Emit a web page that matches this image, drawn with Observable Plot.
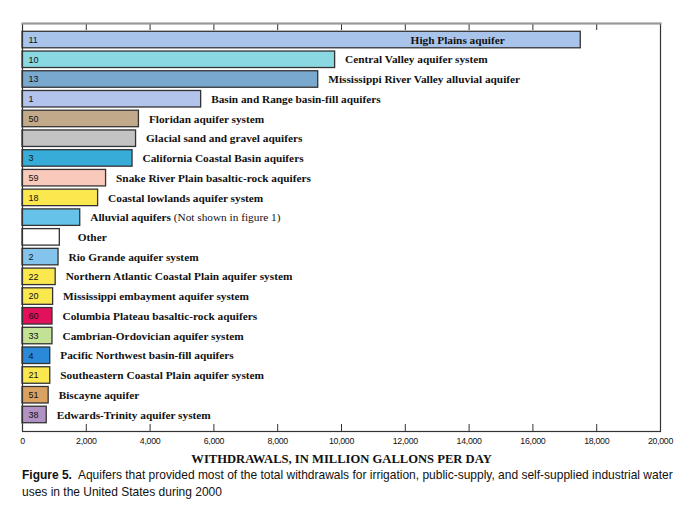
<!DOCTYPE html>
<html>
<head>
<meta charset="utf-8">
<script src="https://cdn.jsdelivr.net/npm/d3@7"></script>
<script src="https://cdn.jsdelivr.net/npm/@observablehq/plot@0.6"></script>
<style>
  body { margin: 0; background: #fff; }
  #chart svg { display: block; }
  #caption {
    margin: 0 0 0 22px; white-space: nowrap;
    font-family: "Liberation Sans Narrow", "Arial Narrow", "Liberation Sans", sans-serif;
    font-size: 13px; line-height: 17px; color: #111;
    transform: scaleX(0.922); transform-origin: 0 0;
  }
  #caption b { font-weight: bold; }
  .ticklab text { letter-spacing: -0.3px; }
</style>
</head>
<body>
<div id="chart"></div>
<div id="caption"><b>Figure 5.</b>&nbsp; Aquifers that provided most of the total withdrawals for irrigation, public-supply, and self-supplied industrial water<br>uses in the United States during 2000</div>
<script>
const names = [
  "High Plains aquifer",
  "Central Valley aquifer system",
  "Mississippi River Valley alluvial aquifer",
  "Basin and Range basin-fill aquifers",
  "Floridan aquifer system",
  "Glacial sand and gravel aquifers",
  "California Coastal Basin aquifers",
  "Snake River Plain basaltic-rock aquifers",
  "Coastal lowlands aquifer system",
  "Alluvial aquifers (Not shown in figure 1)",
  "Other",
  "Rio Grande aquifer system",
  "Northern Atlantic Coastal Plain aquifer system",
  "Mississippi embayment aquifer system",
  "Columbia Plateau basaltic-rock aquifers",
  "Cambrian-Ordovician aquifer system",
  "Pacific Northwest basin-fill aquifers",
  "Southeastern Coastal Plain aquifer system",
  "Biscayne aquifer",
  "Edwards-Trinity aquifer system"
];
const values = [17500, 9800, 9270, 5600, 3650, 3560, 3450, 2620, 2370, 1810, 1170, 1130, 1040, 960, 940, 940, 870, 870, 820, 760];
const codes = ["11", "10", "13", "1", "50", "", "3", "59", "18", "", "", "2", "22", "20", "60", "33", "4", "21", "51", "38"];
const colors = ["#a9c4ea", "#8ad8e2", "#7aa9cf", "#b2c3ec", "#c2a98a", "#c3c3c3", "#38acd9", "#f9c9bb", "#fbe84f", "#67c2ea", "#ffffff", "#84c3ec", "#fbe84f", "#fbe84f", "#e3105b", "#c3e296", "#2a89d8", "#fbe84f", "#d9a262", "#b292c4"];
const xTicks = [0, 2000, 4000, 6000, 8000, 10000, 12000, 14000, 16000, 18000, 20000];
const axisTitle = "WITHDRAWALS, IN MILLION GALLONS PER DAY";

const rows = names.map((n, i) => ({name: n, value: values[i], code: codes[i], color: colors[i]}));

const W = 689, H = 466, mT = 23, mB = 35, mL = 22, mR = 29;
const frameH = H - mT - mB;
const serif = "'Liberation Serif', 'Times New Roman', serif";
const narrow = "'Liberation Sans Narrow', 'Arial Narrow', 'Liberation Sans', sans-serif";
const labelStyle = {fontSize: 11.3, fontWeight: "bold", fontFamily: serif, fill: "#111"};

const chart = Plot.plot({
  width: W, height: H,
  marginTop: mT, marginBottom: mB, marginLeft: mL, marginRight: mR,
  style: {background: "#fff", color: "#111"},
  x: {domain: [0, 20000]},
  y: {domain: names, type: "band", paddingInner: 0.164, paddingOuter: 0.42, round: false, axis: null},
  marks: [
    Plot.barX(rows, {x: "value", y: "name", fill: "color", stroke: "#333", strokeWidth: 1.3}),
    Plot.text(rows.filter(d => d.code), {x: 0, y: "name", text: "code", textAnchor: "start", dx: 6,
      fontSize: 9, fontFamily: narrow, fill: "#111"}),
    Plot.text(rows.filter(d => d.name !== "High Plains aquifer" && d.name !== "Other"), {x: "value", y: "name", text: "name",
      textAnchor: "start", dx: 10, ...labelStyle}),
    Plot.text(rows.filter(d => d.name === "Other"), {x: "value", y: "name", text: "name",
      textAnchor: "start", dx: 18, ...labelStyle}),
    Plot.text(rows.filter(d => d.name === "High Plains aquifer"), {x: "value", y: "name", text: "name",
      textAnchor: "end", dx: -76, ...labelStyle}),
    Plot.ruleX(xTicks.slice(1, -1), {x: d => d, insetBottom: frameH - 7, stroke: "#333", strokeWidth: 1}),
    Plot.ruleX(xTicks.slice(1, -1), {x: d => d, insetTop: frameH - 7, stroke: "#333", strokeWidth: 1}),
    Plot.frame({stroke: "#333", strokeWidth: 1.2}),
    Plot.frame({anchor: "top", stroke: "#999", strokeWidth: 2}),
    Plot.axisX({anchor: "bottom", ticks: xTicks, tickSize: 0, tickPadding: 6, tickFormat: d3.format(","),
      fontSize: 8.8, fontFamily: narrow, label: null, className: "ticklab"}),
    Plot.text([axisTitle], {text: d => d, frameAnchor: "bottom", dy: 31, fontSize: 12.6, fontWeight: "bold",
      fontFamily: serif, fill: "#111"})
  ]
});

// mixed weight for the "Alluvial aquifers" label
chart.querySelectorAll("text").forEach(t => {
  if (t.textContent === "Alluvial aquifers (Not shown in figure 1)") {
    t.textContent = "";
    const a = document.createElementNS("http://www.w3.org/2000/svg", "tspan");
    a.textContent = "Alluvial aquifers ";
    const b = document.createElementNS("http://www.w3.org/2000/svg", "tspan");
    b.textContent = "(Not shown in figure 1)";
    b.setAttribute("font-weight", "normal");
    t.appendChild(a); t.appendChild(b);
  }
});
document.getElementById("chart").appendChild(chart);
</script>
</body>
</html>
